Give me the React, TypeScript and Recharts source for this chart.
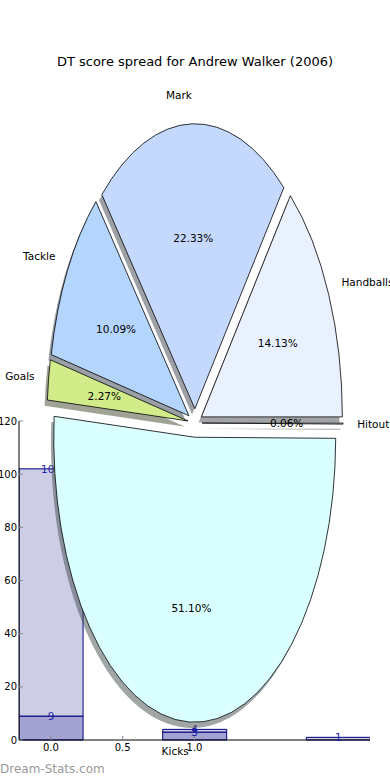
import React from "react";
import { Bar, BarChart, Cell, LabelList, Pie, PieChart, XAxis, YAxis } from "recharts";

// pie: share of DT score by stat (percent)
const sliceNames = ["Handballs", "Mark", "Tackle", "Goals", "Kicks", "Hitout"];
const sliceShares = [14.13, 22.33, 10.09, 2.27, 51.1, 0.06];
const sliceColors = ["#e9f0fe", "#c5d9fe", "#b4d5fe", "#d1ec89", "#d9ffff", "#eef2fb"];

// bars behind the pie
const barPositions = [0, 1, 2];
const barLower = [9, 3, 0];
const barTotal = [102, 4, 1];
const xTicks = [0, 0.5, 1];
const yTicks = [0, 20, 40, 60, 80, 100, 120];

const pieData = sliceNames.map((name, i) => ({ name, value: sliceShares[i] }));
const barData = barPositions.map((x, i) => ({
  x,
  low: barLower[i],
  high: barTotal[i] - barLower[i],
  total: barTotal[i]
}));

const FONT = "'DejaVu Sans', Verdana, sans-serif";
const RX = 141;
const STRETCH = 285 / 141;
const EXPLODE = 0.05;
const SHADOW = 0.02;

const rad = (a: number) => (a * Math.PI) / 180;

function shade(hex: string) {
  const n = parseInt(hex.slice(1), 16);
  const r = Math.round(((n >> 16) & 255) * 0.3);
  const g = Math.round(((n >> 8) & 255) * 0.3);
  const b = Math.round((n & 255) * 0.3);
  return `rgb(${r},${g},${b})`;
}

// elliptical, exploded wedge (matplotlib-style pie on a non-square axes)
function EllipseWedge(props: any) {
  const { cx, cy, startAngle, endAngle, outerRadius, fill, stroke, strokeWidth, fillOpacity } = props;
  const ry = outerRadius * STRETCH;
  const mid = rad((startAngle + endAngle) / 2);
  const ox = cx + EXPLODE * outerRadius * Math.cos(mid);
  const oy = cy - EXPLODE * ry * Math.sin(mid);
  const a0 = rad(startAngle);
  const a1 = rad(endAngle);
  const x0 = ox + outerRadius * Math.cos(a0);
  const y0 = oy - ry * Math.sin(a0);
  const x1 = ox + outerRadius * Math.cos(a1);
  const y1 = oy - ry * Math.sin(a1);
  const large = Math.abs(endAngle - startAngle) > 180 ? 1 : 0;
  const sweep = endAngle > startAngle ? 0 : 1;
  const d = `M${ox},${oy} L${x0},${y0} A${outerRadius},${ry} 0 ${large} ${sweep} ${x1},${y1} Z`;
  return <path d={d} fill={fill} fillOpacity={fillOpacity} stroke={stroke} strokeWidth={strokeWidth} />;
}

function wedgeLabel(props: any) {
  const { cx, cy, midAngle, outerRadius, payload, value } = props;
  const ry = outerRadius * STRETCH;
  const c = Math.cos(rad(midAngle));
  const s = Math.sin(rad(midAngle));
  const ox = cx + EXPLODE * outerRadius * c;
  const oy = cy - EXPLODE * ry * s;
  return (
    <g>
      <text
        x={ox + 1.1 * outerRadius * c}
        y={oy - 1.1 * ry * s}
        textAnchor={c > 0 ? "start" : "end"}
        dominantBaseline="central"
        fontSize={10.5}
        fontFamily={FONT}
        fill="#000"
      >
        {payload.name}
      </text>
      <text
        x={ox + 0.6 * outerRadius * c}
        y={oy - 0.6 * ry * s}
        textAnchor="middle"
        dominantBaseline="central"
        fontSize={10.5}
        fontFamily={FONT}
        fill="#000"
      >
        {Number(value).toFixed(2)}%
      </text>
    </g>
  );
}

function segLabel(props: any) {
  const { x, y, width, value } = props;
  if (!value) return null;
  return (
    <text
      x={Number(x) + Number(width) / 2}
      y={y}
      textAnchor="middle"
      dominantBaseline="central"
      fontSize={10.5}
      fontFamily={FONT}
      fill="#1f1fa8"
    >
      {value}
    </text>
  );
}

const tickStyle = { fontSize: 10, fill: "#000", fontFamily: FONT };

export default function App() {
  return (
    <div style={{ position: "absolute", left: 0, top: 0, width: 390, height: 780, background: "#fff", fontFamily: FONT }}>
      <div style={{ position: "absolute", top: 54, left: 0, width: 390, textAlign: "center", fontSize: 13, lineHeight: "15px" }}>
        DT score spread for Andrew Walker (2006)
      </div>

      <div style={{ position: "absolute", left: 0, top: 0 }}>
        <BarChart width={390} height={780} data={barData} margin={{ top: 421, right: 20, bottom: 0, left: 0 }}>
          <XAxis
            xAxisId="b"
            dataKey="x"
            type="number"
            domain={[-0.222, 2.222]}
            allowDataOverflow
            ticks={xTicks}
            tickFormatter={(v: number) => v.toFixed(1)}
            height={40}
            tick={tickStyle}
            tickSize={-4}
            tickMargin={8}
            tickLine={{ stroke: "#888" }}
            axisLine={{ stroke: "#000" }}
          />
          <XAxis
            xAxisId="t"
            dataKey="x"
            type="number"
            orientation="top"
            domain={[-0.222, 2.222]}
            allowDataOverflow
            ticks={xTicks}
            height={0}
            tick={false}
            tickSize={-4}
            tickLine={{ stroke: "#888" }}
            axisLine={{ stroke: "#000" }}
          />
          <YAxis
            yAxisId="l"
            domain={[0, 120]}
            ticks={yTicks}
            width={19}
            tick={tickStyle}
            tickSize={-4}
            tickMargin={6}
            tickLine={{ stroke: "#888" }}
            axisLine={{ stroke: "#000" }}
          />
          <YAxis
            yAxisId="r"
            orientation="right"
            domain={[0, 120]}
            ticks={yTicks}
            width={0}
            tick={false}
            tickSize={-4}
            tickLine={{ stroke: "#888" }}
            axisLine={{ stroke: "#000" }}
          />
          <Bar xAxisId="b" yAxisId="l" dataKey="low" stackId="s" barSize={64} fill="#a3a3d2" stroke="#000080" strokeWidth={1} isAnimationActive={false}>
            <LabelList dataKey="low" content={segLabel} />
          </Bar>
          <Bar xAxisId="b" yAxisId="l" dataKey="high" stackId="s" barSize={64} fill="#cdcde6" stroke="#000080" strokeWidth={1} isAnimationActive={false}>
            <LabelList dataKey="total" content={segLabel} />
          </Bar>
        </BarChart>
      </div>

      <div style={{ position: "absolute", left: 0, top: 0 }}>
        <PieChart width={390} height={780} margin={{ top: 0, right: 0, bottom: 0, left: 0 }}>
          <Pie
            data={pieData}
            dataKey="value"
            nameKey="name"
            cx={195 - SHADOW * RX}
            cy={423 + SHADOW * RX * STRETCH}
            outerRadius={RX}
            startAngle={0}
            endAngle={360}
            stroke="none"
            shape={EllipseWedge}
            activeShape={EllipseWedge}
            isAnimationActive={false}
          >
            {pieData.map((d, i) => (
              <Cell key={d.name} fill={shade(sliceColors[i])} fillOpacity={0.5} />
            ))}
          </Pie>
          <Pie
            data={pieData}
            dataKey="value"
            nameKey="name"
            cx={195}
            cy={423}
            outerRadius={RX}
            startAngle={0}
            endAngle={360}
            stroke="#000"
            strokeWidth={0.8}
            shape={EllipseWedge}
            activeShape={EllipseWedge}
            label={wedgeLabel}
            labelLine={false}
            isAnimationActive={false}
          >
            {pieData.map((d, i) => (
              <Cell key={d.name} fill={sliceColors[i]} />
            ))}
          </Pie>
        </PieChart>
      </div>

      <div style={{ position: "absolute", left: 0, top: 762, fontSize: 12, color: "#999" }}>
        Dream-Stats.com
      </div>
    </div>
  );
}
